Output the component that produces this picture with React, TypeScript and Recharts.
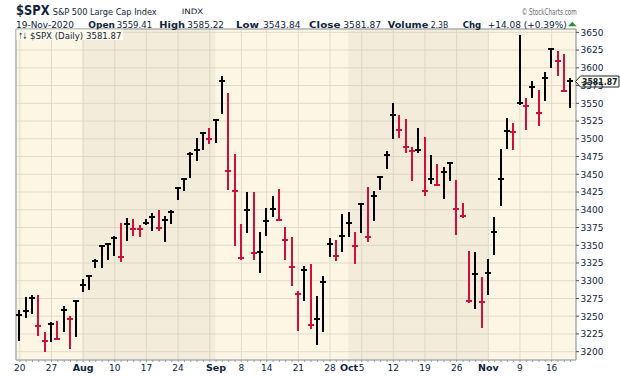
import React from 'react';
import { ComposedChart, Bar, XAxis, YAxis, CartesianGrid, ReferenceArea, ReferenceDot } from 'recharts';

// ---- data (S&P 500 daily, 20-Jul-2020 .. 19-Nov-2020) ----
const dates = [
  '2020-07-20', '2020-07-21', '2020-07-22', '2020-07-23', '2020-07-24',
  '2020-07-27', '2020-07-28', '2020-07-29', '2020-07-30', '2020-07-31',
  '2020-08-03', '2020-08-04', '2020-08-05', '2020-08-06', '2020-08-07',
  '2020-08-10', '2020-08-11', '2020-08-12', '2020-08-13', '2020-08-14',
  '2020-08-17', '2020-08-18', '2020-08-19', '2020-08-20', '2020-08-21',
  '2020-08-24', '2020-08-25', '2020-08-26', '2020-08-27', '2020-08-28',
  '2020-08-31', '2020-09-01', '2020-09-02', '2020-09-03', '2020-09-04',
  '2020-09-08', '2020-09-09', '2020-09-10', '2020-09-11',
  '2020-09-14', '2020-09-15', '2020-09-16', '2020-09-17', '2020-09-18',
  '2020-09-21', '2020-09-22', '2020-09-23', '2020-09-24', '2020-09-25',
  '2020-09-28', '2020-09-29', '2020-09-30', '2020-10-01', '2020-10-02',
  '2020-10-05', '2020-10-06', '2020-10-07', '2020-10-08', '2020-10-09',
  '2020-10-12', '2020-10-13', '2020-10-14', '2020-10-15', '2020-10-16',
  '2020-10-19', '2020-10-20', '2020-10-21', '2020-10-22', '2020-10-23',
  '2020-10-26', '2020-10-27', '2020-10-28', '2020-10-29', '2020-10-30',
  '2020-11-02', '2020-11-03', '2020-11-04', '2020-11-05', '2020-11-06',
  '2020-11-09', '2020-11-10', '2020-11-11', '2020-11-12', '2020-11-13',
  '2020-11-16', '2020-11-17', '2020-11-18', '2020-11-19',
];

const highs = [
  3258.61, 3277.29, 3279.32, 3279.99, 3227.26,
  3241.43, 3243.72, 3264.74, 3250.92, 3272.17,
  3302.73, 3306.84, 3330.77, 3351.03, 3352.54,
  3363.29, 3381.01, 3387.89, 3387.24, 3378.51,
  3387.59, 3395.06, 3399.54, 3390.8, 3399.96,
  3432.09, 3444.21, 3481.07, 3501.38, 3509.23,
  3514.77, 3528.03, 3588.11, 3564.85, 3479.15,
  3379.97, 3424.77, 3425.55, 3368.95,
  3402.93, 3419.48, 3428.92, 3375.17, 3362.27,
  3285.57, 3320.31, 3323.35, 3278.7, 3306.88,
  3360.74, 3357.92, 3393.56, 3397.18, 3369.1,
  3409.57, 3431.56, 3426.26, 3447.28, 3482.34,
  3549.85, 3534.01, 3527.94, 3489.08, 3515.76,
  3502.42, 3476.93, 3464.86, 3460.53, 3466.46,
  3441.42, 3409.51, 3342.48, 3341.05, 3304.93,
  3330.14, 3389.49, 3486.25, 3529.05, 3521.58,
  3645.99, 3557.22, 3581.16, 3569.02, 3593.66,
  3628.51, 3623.11, 3619.09, 3585.22,
];

const lows = [
  3215.16, 3247.77, 3253.1, 3222.66, 3200.05,
  3214.25, 3216.17, 3227.22, 3204.13, 3220.26,
  3284.53, 3286.37, 3317.37, 3318.14, 3328.72,
  3335.44, 3326.44, 3355.46, 3363.35, 3361.64,
  3379.22, 3370.15, 3369.66, 3354.69, 3379.31,
  3413.13, 3425.84, 3444.15, 3468.35, 3484.32,
  3493.25, 3494.6, 3535.23, 3427.41, 3349.63,
  3329.27, 3366.84, 3329.25, 3310.47,
  3363.56, 3389.25, 3384.45, 3328.82, 3292.4,
  3229.1, 3270.95, 3232.57, 3209.45, 3228.44,
  3332.91, 3327.54, 3340.47, 3361.39, 3323.69,
  3367.27, 3354.54, 3384.56, 3428.15, 3458.07,
  3499.61, 3500.86, 3480.55, 3440.89, 3480.45,
  3419.93, 3435.65, 3433.06, 3415.34, 3440.45,
  3364.86, 3388.71, 3268.89, 3259.82, 3233.94,
  3279.74, 3336.25, 3405.17, 3485.74, 3484.34,
  3547.48, 3511.91, 3557.0, 3518.58, 3552.57,
  3600.16, 3588.68, 3567.33, 3543.84,
];

const closes = [
  3251.84, 3257.3, 3276.02, 3235.66, 3215.63,
  3239.41, 3218.44, 3258.44, 3246.22, 3271.12,
  3294.61, 3306.51, 3327.77, 3349.16, 3351.28,
  3360.47, 3333.69, 3380.35, 3373.43, 3372.85,
  3381.99, 3389.78, 3374.85, 3385.51, 3397.16,
  3431.28, 3443.62, 3478.73, 3484.55, 3508.01,
  3500.31, 3526.65, 3580.84, 3455.06, 3426.96,
  3331.84, 3398.96, 3339.19, 3340.97,
  3383.54, 3401.2, 3385.49, 3357.01, 3319.47,
  3281.06, 3315.57, 3236.92, 3246.59, 3298.46,
  3351.6, 3335.47, 3363.0, 3380.8, 3348.42,
  3408.63, 3360.97, 3419.44, 3446.83, 3477.14,
  3534.22, 3511.93, 3488.67, 3483.34, 3483.81,
  3426.92, 3443.12, 3435.56, 3453.49, 3465.39,
  3400.97, 3390.68, 3271.03, 3310.11, 3269.96,
  3310.24, 3369.16, 3443.44, 3510.45, 3509.44,
  3550.5, 3545.53, 3572.66, 3537.01, 3585.15,
  3626.91, 3609.53, 3567.79, 3581.87,
];

const priorClose = 3224.73; // close before the first bar (17-Jul-2020)

const yTicks = [3200, 3225, 3250, 3275, 3300, 3325, 3350, 3375, 3400, 3425, 3450, 3475, 3500, 3525, 3550, 3575, 3600, 3625, 3650];
const tickDates = ['2020-07-20', '2020-07-27', '2020-08-03', '2020-08-10', '2020-08-17', '2020-08-24', '2020-09-01', '2020-09-08', '2020-09-14', '2020-09-21', '2020-09-28', '2020-10-01', '2020-10-05', '2020-10-12', '2020-10-19', '2020-10-26', '2020-11-02', '2020-11-09', '2020-11-16'];
const tickLabels = ['20', '27', 'Aug', '10', '17', '24', 'Sep', '8', '14', '21', '28', 'Oct', '5', '12', '19', '26', 'Nov', '9', '16'];

// header texts
const symbol = '$SPX';
const symbolName = 'S&P 500 Large Cap Index';
const exchange = 'INDX';
const copyright = '\u00A9 StockCharts.com';
const lastDate = '19-Nov-2020';
const quoteLabels = ['Open', 'High', 'Low', 'Close', 'Volume', 'Chg'];
const quoteValues = ['3559.41', '3585.22', '3543.84', '3581.87', '2.3B', '+14.08 (+0.39%)'];
const legendText = '$SPX (Daily) 3581.87';

// ---- layout / style ----
const W = 620;
const H = 376;
const XMIN = -0.6;
const XMAX = 87.85;
const YMIN = 3188.3;
const YMAX = 3654.7;
const FONT = "'DejaVu Sans', Verdana, sans-serif";
const TXT = '#10233a';
const UP = '#000000';
const DOWN = '#d0103a';
const BORDER = '#8e9ba6';
const GRID = '#e2dac8';
const BG_LIGHT = '#fdf6e4';

const dayOf = (d: string) => new Date(d + 'T00:00:00Z').getUTCDay();
const monthOf = (d: string) => d.slice(0, 7);

const data = dates.map((d, i) => ({
  i,
  date: d,
  high: highs[i],
  low: lows[i],
  close: closes[i],
  range: [lows[i], highs[i]],
  up: closes[i] >= (i === 0 ? priorClose : closes[i - 1]),
}));

// first trading day of each week -> vertical grid lines
const weekStarts = dates.map((d, i) => i).filter((i) => i === 0 || dayOf(dates[i]) < dayOf(dates[i - 1]));
// first trading day of each month -> background bands
const monthStarts = dates.map((d, i) => i).filter((i) => i === 0 || monthOf(dates[i]) !== monthOf(dates[i - 1]));
const darkBands = monthStarts
  .map((s, k) => ({ k, x1: k === 0 ? XMIN : s - 0.1, x2: k + 1 < monthStarts.length ? monthStarts[k + 1] - 0.1 : XMAX }))
  .filter((b) => b.k % 2 === 1);

const tickIndex = tickDates.map((d) => dates.indexOf(d));
const allIdx = dates.map((d, i) => i);

const HLCBar = (props: any) => {
  const { x, y, width, height, payload } = props;
  if (x == null || y == null || !payload) return null;
  const cx = Math.round(x + width / 2);
  const top = Math.min(y, y + height);
  const bot = Math.max(y, y + height);
  const span = payload.high - payload.low;
  const yc = Math.round(span > 0 ? top + ((payload.high - payload.close) / span) * (bot - top) : top);
  const c = payload.up ? UP : DOWN;
  return (
    <g>
      <line x1={cx} x2={cx} y1={Math.round(top)} y2={Math.round(bot)} stroke={c} strokeWidth={2} />
      <line x1={cx - 3} x2={cx + 3} y1={yc} y2={yc} stroke={c} strokeWidth={2} />
    </g>
  );
};

const XTick = (props: any) => {
  const { x, y, payload } = props;
  const k = tickIndex.indexOf(payload.value);
  if (k < 0) return null;
  const label = tickLabels[k];
  const isMonth = isNaN(Number(label));
  return (
    <text x={x} y={y + 8.5} textAnchor="middle" fontFamily={FONT} fontSize={isMonth ? 9.5 : 9} fontWeight={isMonth ? 'bold' : 'normal'} fill={TXT}>
      {label}
    </text>
  );
};

const YTick = (props: any) => {
  const { x, y, payload } = props;
  return (
    <text x={x + 1.5} y={y + 3.3} textAnchor="start" fontFamily={FONT} fontSize={9} fill={TXT}>
      {payload.value}
    </text>
  );
};

const PriceTag = (props: any) => {
  const { cx, cy } = props;
  if (cx == null || cy == null) return null;
  const x0 = Math.round(cx) - 0.5;
  const y0 = Math.round(cy) + 0.5;
  return (
    <g>
      <path d={`M${x0},${y0} L${x0 + 5},${y0 - 5.5} H${x0 + 43.5} V${y0 + 5.5} H${x0 + 5} Z`} fill="#fffbea" stroke="#1b2a38" strokeWidth={1} />
      <text x={x0 + 6.5} y={y0 + 3.6} textLength={35.5} lengthAdjust="spacingAndGlyphs" fontFamily={FONT} fontSize={9.5} fontWeight="bold" fill="#0e1d2c">
        {closes[closes.length - 1].toFixed(2)}
      </text>
    </g>
  );
};

const T = (p: { x: number; y: number; w?: number; size: number; bold?: boolean; fill?: string; children: React.ReactNode }) => (
  <text
    x={p.x}
    y={p.y}
    textLength={p.w}
    lengthAdjust={p.w ? 'spacingAndGlyphs' : undefined}
    fontFamily={FONT}
    fontSize={p.size}
    fontWeight={p.bold ? 'bold' : 'normal'}
    fill={p.fill || TXT}
  >
    {p.children}
  </text>
);

export default function App() {
  const qx = [88.3, 159.3, 236, 309, 387.7, 462.7];
  const qw = [26.7, 25.7, 23, 31.5, 40.6, 18.6];
  const vx = [116.7, 187.3, 263, 343.3, 430.7, 487.7];
  const vw = [35.6, 36.7, 37.5, 37.7, 17.6, 79];
  return (
    <div style={{ position: 'fixed', left: 0, top: 0, width: W, height: H, background: '#ffffff' }}>
      <ComposedChart width={W} height={H} data={data} margin={{ top: 29, right: 0, bottom: 0, left: 16 }}>
        <CartesianGrid xAxisId="grid" stroke={GRID} fill={BG_LIGHT} strokeWidth={1} />
        <XAxis
          dataKey="i"
          type="number"
          domain={[XMIN, XMAX]}
          allowDataOverflow
          ticks={allIdx}
          interval={0}
          height={16}
          axisLine={false}
          tickLine={{ stroke: BORDER }}
          tickSize={2}
          tickMargin={0}
          tick={<XTick />}
        />
        <XAxis xAxisId="grid" dataKey="i" type="number" domain={[XMIN, XMAX]} allowDataOverflow ticks={weekStarts} interval={0} hide />
        <YAxis
          orientation="right"
          domain={[YMIN, YMAX]}
          allowDataOverflow
          ticks={yTicks}
          interval={0}
          width={44}
          axisLine={false}
          tickLine={{ stroke: '#44505a' }}
          tickSize={3}
          tickMargin={0}
          tick={<YTick />}
        />
        {darkBands.map((b) => (
          <ReferenceArea key={b.k} x1={b.x1} x2={b.x2} fill="#c8beaf" fillOpacity={0.17} stroke="none" ifOverflow="visible" />
        ))}
        <ReferenceArea x1={XMIN} x2={XMAX} y1={YMIN} y2={YMAX} fill="none" stroke={BORDER} strokeWidth={1} ifOverflow="visible" />
        <Bar dataKey="range" barSize={7} shape={<HLCBar />} isAnimationActive={false} />
        <ReferenceDot x={XMAX} y={closes[closes.length - 1]} r={0} shape={<PriceTag />} ifOverflow="visible" />
      </ComposedChart>
      <svg width={W} height={H} style={{ position: 'absolute', left: 0, top: 0, pointerEvents: 'none' }}>
        <T x={16} y={15} w={33.5} size={14} bold>{symbol}</T>
        <T x={52.7} y={14.5} w={104} size={9.5}>{symbolName}</T>
        <T x={181.7} y={14} w={21.6} size={7.5}>{exchange}</T>
        <T x={521.7} y={15} w={55} size={8.5} fill="#6a6a6a">{copyright}</T>
        <T x={16} y={27.5} w={58} size={9}>{lastDate}</T>
        {quoteLabels.map((l, k) => (
          <T key={l} x={qx[k]} y={27.5} w={qw[k]} size={9.5} bold>{l}</T>
        ))}
        {quoteValues.map((v, k) => (
          <T key={k} x={vx[k]} y={27.5} w={vw[k]} size={9}>{v}</T>
        ))}
        <path d="M568,26.3 L572.3,21.8 L576.6,26.3 Z" fill="#2f8f2f" />
        <rect x={16.5} y={29.5} width={106.5} height={10.5} fill="#fffbee" />
        <T x={18.5} y={38.5} w={8.5} size={9}>{'\u2191\u2193'}</T>
        <T x={30} y={38.5} w={91.5} size={9}>{legendText}</T>
      </svg>
    </div>
  );
}
